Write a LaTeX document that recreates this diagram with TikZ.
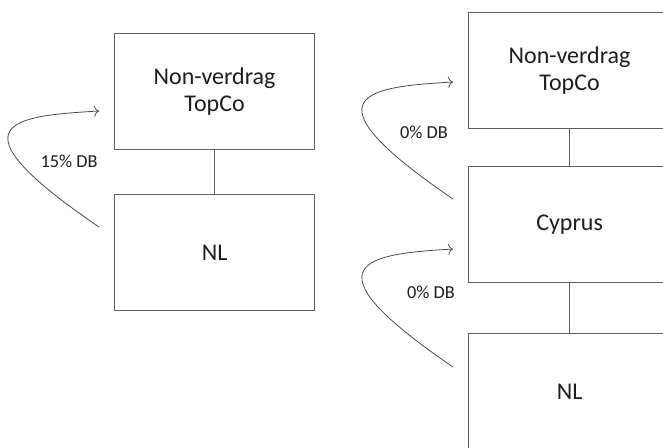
\documentclass[tikz,border=0pt]{standalone}
\usepackage{fontspec}
\setmainfont{Carlito}
\usetikzlibrary{arrows.meta}
\definecolor{boxline}{HTML}{606060}
\definecolor{arrline}{HTML}{4A4A4A}
\definecolor{txt}{HTML}{1E1E1E}
\tikzset{
  entity/.style={draw=boxline, line width=1.2pt, minimum width=200pt, minimum height=116pt,
    inner sep=0pt, align=center, font=\fontsize{24}{27.5}\selectfont, text=txt, anchor=north west},
  link/.style={draw=boxline, line width=1.2pt},
  flow/.style={draw=arrline, line width=0.8pt, -{To[length=5pt,width=11pt]}},
  lbl/.style={font=\fontsize{18.3}{21}\selectfont, text=txt, inner sep=0pt}
}
\begin{document}
\begin{tikzpicture}[x=1pt,y=-1pt]
\useasboundingbox (0,0) rectangle (663,447);
\clip (0,0) rectangle (663,447);
% left structure
\node[entity] (ltop) at (114,33) {Non-verdrag\\TopCo};
\node[entity] (lnl) at (114,194) {NL};
\draw[link] (ltop.south) -- (lnl.north);
\coordinate (la) at (99,227);
\coordinate (lb) at (99,111);
\draw[flow] (la) .. controls (-55,122) and (15,116) .. (lb);
\node[lbl] (l1) at (69,161) {15\% DB};
% right structure
\node[entity, minimum width=202pt] (rtop) at (468,12) {Non-verdrag\\TopCo};
\node[entity, minimum width=202pt] (rcy) at (468,166) {Cyprus};
\node[entity, minimum width=202pt] (rnl) at (468,333) {NL};
\draw[link] (rtop.south) -- (rcy.north);
\draw[link] (rcy.south) -- (rnl.north);
\coordinate (ra) at (453,199);
\coordinate (rb) at (453,82);
\draw[flow] (ra) .. controls (299,94) and (369,87) .. (rb);
\coordinate (rc) at (453,367);
\coordinate (rd) at (453,249);
\draw[flow] (rc) .. controls (299,262) and (369,254) .. (rd);
\node[lbl] (r1) at (424,132) {0\% DB};
\node[lbl] (r2) at (431,292) {0\% DB};
\end{tikzpicture}
\end{document}
